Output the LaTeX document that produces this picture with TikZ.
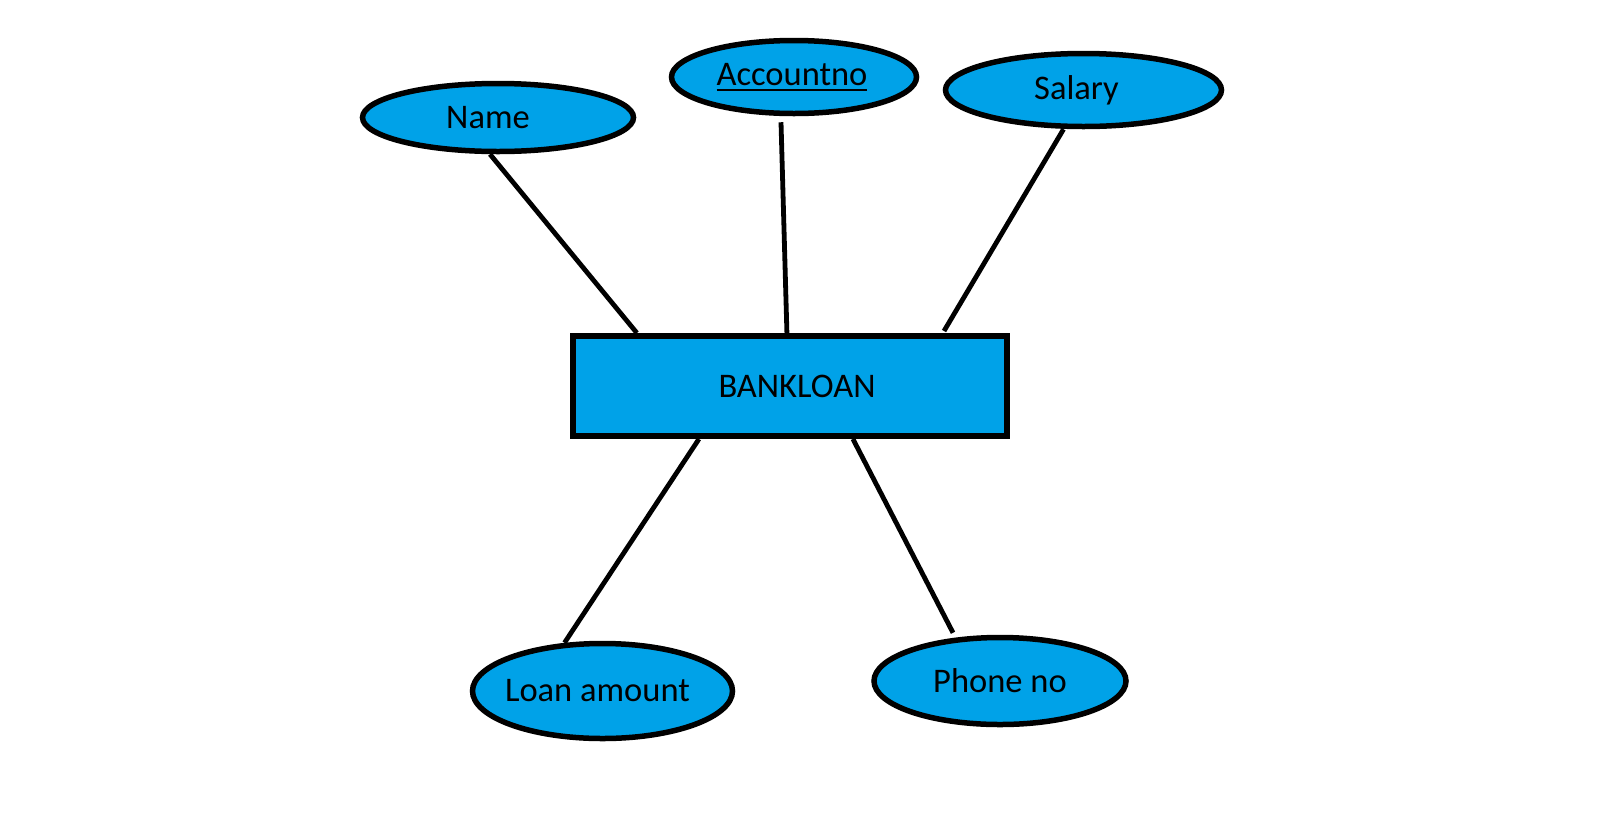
\documentclass[tikz,border=0pt]{standalone}
\usepackage{fontspec}
\setmainfont{Carlito}
\usetikzlibrary{shapes.geometric,calc}
\definecolor{erblue}{HTML}{00A2E8}
\newcommand\myul[1]{\setbox0\hbox{#1}\rlap{\raisebox{-5pt}{\rule{\wd0}{2pt}}}\box0}
\newcommand\shiftx[2]{\hspace*{#1}#2}
\tikzset{
  attr/.style={ellipse, draw=black, line width=5.5pt, fill=erblue, inner sep=0pt,
    font=\fontsize{34.5}{40}\selectfont},
  ent/.style={rectangle, draw=black, line width=6pt, fill=erblue, inner sep=0pt,
    font=\fontsize{34.5}{40}\selectfont},
  link/.style={draw=black, line width=4.8pt}
}
\begin{document}
\begin{tikzpicture}[x=1pt,y=-1pt]
\useasboundingbox (0,0) rectangle (1622,836);
\node[ent, minimum width=434pt, minimum height=100pt] (bank) at (790,386) {\raisebox{-8pt}{\shiftx{14pt}{BANKLOAN}}};
\node[attr, minimum width=271pt, minimum height=68pt] (name) at (498,117.5) {\raisebox{1pt}{\shiftx{-20pt}{Name}}};
\node[attr, minimum width=245pt, minimum height=73pt] (acc) at (794,77) {\shiftx{-4pt}{\myul{Accountno}}};
\node[attr, minimum width=276pt, minimum height=73pt] (sal) at (1083.5,90) {\raisebox{-2pt}{\shiftx{-14pt}{Salary}}};
\node[attr, minimum width=260pt, minimum height=95pt] (loan) at (602.5,691) {\raisebox{-5pt}{\shiftx{-10pt}{Loan amount}}};
\node[attr, minimum width=252pt, minimum height=87pt] (phone) at (1000,681) {Phone no};
\draw[link] ($(name.south)+(-8,0)$) -- ($(bank.north west)!0.152!(bank.north east)$);
\draw[link] ($(acc.south)+(-13,6)$) -- ($(bank.north west)!0.493!(bank.north east)$);
\draw[link] ($(sal.south)+(-20,0)$) -- ($(bank.north west)!0.85!(bank.north east)+(0,-2)$);
\draw[link] ($(bank.south west)!0.293!(bank.south east)$) -- ($(loan.north)+(-38,2)$);
\draw[link] ($(bank.south west)!0.643!(bank.south east)$) -- ($(phone.north)+(-47,-2)$);
\end{tikzpicture}
\end{document}
